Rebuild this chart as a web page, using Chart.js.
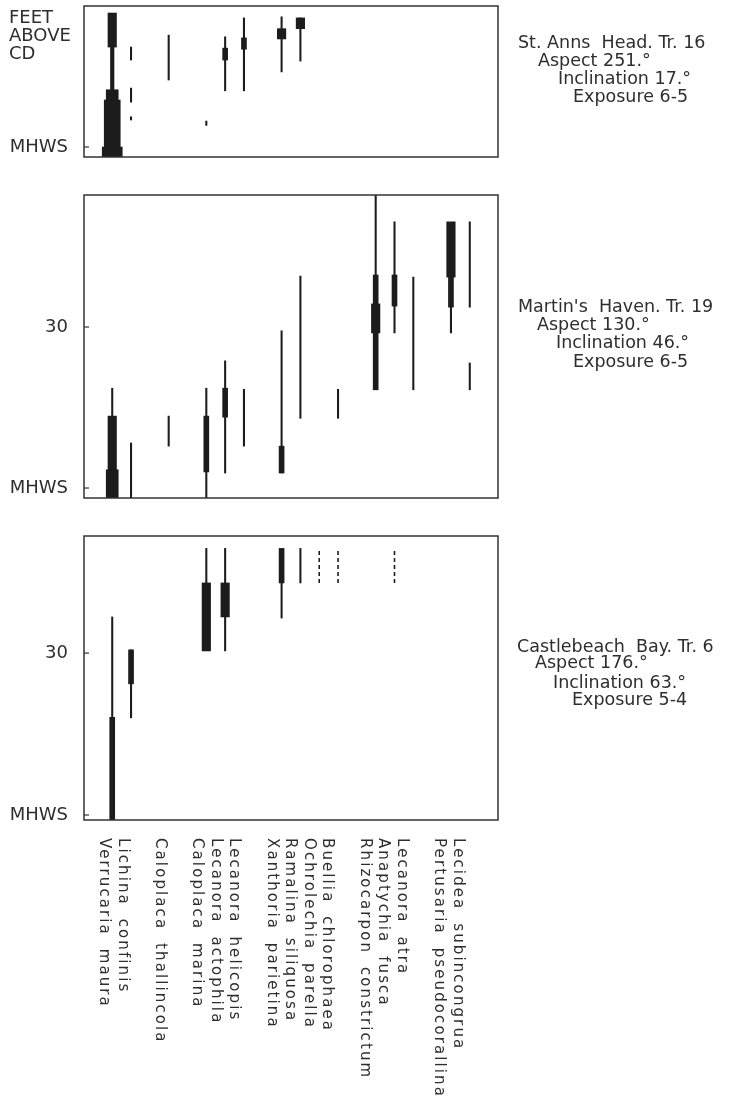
<!DOCTYPE html>
<html>
<head>
<meta charset="utf-8">
<script src="https://cdn.jsdelivr.net/npm/chart.js@4.4.1/dist/chart.umd.min.js"></script>
<style>
  html, body { margin: 0; padding: 0; background: #fff; }
  #page { position: relative; width: 737px; height: 1101px; }
  #page canvas { position: absolute; left: 0; }
</style>
</head>
<body>
<div id="page">
  <canvas id="anns" width="737" height="166" style="top:0"></canvas>
  <canvas id="martins" width="737" height="330" style="top:180px"></canvas>
  <canvas id="castle" width="737" height="581" style="top:520px"></canvas>
</div>
<script>
// species columns, left to right; blank entries keep the gaps between groups
const COLUMNS = ['', 'Verrucaria maura', 'Lichina confinis', '', 'Caloplaca thallincola', '',
  'Caloplaca marina', 'Lecanora actophila', 'Lecanora helicopis', '',
  'Xanthoria parietina', 'Ramalina siliquosa', 'Ochrolechia parella', 'Buellia chlorophaea', '',
  'Rhizocarpon constrictum', 'Anaptychia fusca', 'Lecanora atra', '',
  'Pertusaria pseudocorallina', 'Lecidea subincongrua', ''];

// heights are feet above MHWS: [species, from, to]
// St. Anns Head, Tr. 16
const ANNS_RANGE = [-1.85, 26.1];
const ANNS_TICKS = [0];
const ANNS_LINE = [
  ['Lichina confinis', 16.1, 18.5],
  ['Lichina confinis', 8.3, 10.9],
  ['Lichina confinis', 5.0, 5.6],
  ['Caloplaca thallincola', 12.4, 20.7],
  ['Caloplaca marina', 4.0, 4.8],
  ['Lecanora actophila', 10.4, 20.4],
  ['Lecanora helicopis', 10.4, 23.9],
  ['Xanthoria parietina', 13.9, 24.1],
  ['Ramalina siliquosa', 15.9, 23.9],
];
const ANNS_STEM = [['Verrucaria maura', 10.6, 18.5]];
const ANNS_NARROW = [
  ['Lecanora actophila', 16.1, 18.3],
  ['Lecanora helicopis', 18.1, 20.2],
];
const ANNS_BROAD = [
  ['Verrucaria maura', 18.5, 24.8],
  ['Xanthoria parietina', 20.0, 21.9],
  ['Ramalina siliquosa', 21.9, 23.9],
];
const ANNS_WIDE = [['Verrucaria maura', 8.7, 10.6]];
const ANNS_WIDER = [['Verrucaria maura', 0, 8.7]];
const ANNS_WIDEST = [['Verrucaria maura', -1.85, 0]];

// Martin's Haven, Tr. 19
const MART_RANGE = [-1.86, 54.6];
const MART_TICKS = [0, 30];
const MART_LINE = [
  ['Verrucaria maura', 13.4, 18.6],
  ['Lichina confinis', -1.86, 8.4],
  ['Caloplaca thallincola', 7.8, 13.4],
  ['Caloplaca marina', -1.86, 18.6],
  ['Lecanora actophila', 2.8, 23.7],
  ['Lecanora helicopis', 7.8, 18.4],
  ['Xanthoria parietina', 2.8, 29.3],
  ['Ramalina siliquosa', 13.0, 39.5],
  ['Buellia chlorophaea', 13.0, 18.4],
  ['Rhizocarpon constrictum', 18.6, 54.6],
  ['Anaptychia fusca', 28.9, 49.6],
  ['Lecanora atra', 18.3, 39.3],
  ['Pertusaria pseudocorallina', 28.9, 33.7],
  ['Lecidea subincongrua', 33.7, 49.6],
  ['Lecidea subincongrua', 18.3, 23.3],
];
const MART_NARROW = [
  ['Caloplaca marina', 3.0, 13.4],
  ['Lecanora actophila', 13.2, 18.6],
  ['Xanthoria parietina', 2.8, 7.8],
  ['Rhizocarpon constrictum', 18.3, 39.7],
  ['Anaptychia fusca', 33.9, 39.7],
  ['Pertusaria pseudocorallina', 33.7, 39.3],
];
const MART_BROAD = [
  ['Verrucaria maura', 3.4, 13.4],
  ['Rhizocarpon constrictum', 28.9, 34.3],
  ['Pertusaria pseudocorallina', 39.3, 49.6],
];
const MART_WIDE = [['Verrucaria maura', -1.86, 3.4]];

// Castlebeach Bay, Tr. 6
const CASTLE_RANGE = [-0.93, 51.7];
const CASTLE_TICKS = [0, 30];
const CASTLE_LINE = [
  ['Verrucaria maura', 18.1, 36.7],
  ['Lichina confinis', 18.0, 30.6],
  ['Caloplaca marina', 43.0, 49.4],
  ['Lecanora actophila', 30.4, 49.4],
  ['Xanthoria parietina', 36.5, 43.0],
  ['Ramalina siliquosa', 43.0, 49.4],
];
const CASTLE_NARROW = [
  ['Verrucaria maura', -0.93, 18.1],
  ['Lichina confinis', 24.3, 30.6],
  ['Xanthoria parietina', 43.0, 49.4],
];
const CASTLE_BROAD = [
  ['Caloplaca marina', 30.4, 43.0],
  ['Lecanora actophila', 36.7, 43.0],
];
const CASTLE_DASHED = [
  ['Ochrolechia parella', 43.0, 49.3],
  ['Buellia chlorophaea', 43.0, 49.3],
  ['Anaptychia fusca', 43.0, 49.3],
];

const INK = '#1c1c1c';
const TEXT = '#2e2e2e';
const FONT = 'DejaVu Sans';
const WIDTH = { line: 1.4, stem: 3.5, narrow: 5, broad: 8.5, wide: 12, wider: 16, widest: 20 };

function bars(rows, width) {
  return {
    type: 'bar',
    data: rows.map(([name, lo, hi]) => ({ x: name, y: [lo, hi] })),
    backgroundColor: INK,
    borderWidth: 0,
    barThickness: width,
    grouped: false,
  };
}

function dashes(rows) {
  const pts = [];
  rows.forEach(([name, lo, hi]) => {
    pts.push({ x: name, y: lo }, { x: name, y: hi }, { x: name, y: null });
  });
  return {
    type: 'line',
    data: pts,
    borderColor: INK,
    borderWidth: 1.6,
    borderDash: [4, 3],
    pointRadius: 0,
    spanGaps: false,
    fill: false,
  };
}

// box round the plot, short ticks inside it, and the side notes
const framePlugin = {
  id: 'frame',
  afterDraw(chart, args, opts) {
    const { ctx, chartArea: a } = chart;
    const y = chart.scales.y;
    ctx.save();
    ctx.strokeStyle = '#333';
    ctx.lineWidth = 1.5;
    ctx.strokeRect(a.left, a.top, a.right - a.left, a.bottom - a.top);
    ctx.lineWidth = 1.2;
    y.ticks.forEach(t => {
      const py = y.getPixelForValue(t.value);
      ctx.beginPath();
      ctx.moveTo(a.left, py);
      ctx.lineTo(a.left + 5, py);
      ctx.stroke();
    });
    ctx.fillStyle = TEXT;
    ctx.textBaseline = 'middle';
    ctx.textAlign = 'left';
    ctx.font = `17.5px "${FONT}"`;
    (opts.notes || []).forEach(([txt, x, ty]) => ctx.fillText(txt, x, ty));
    ctx.font = `18px "${FONT}"`;
    (opts.title || []).forEach(([txt, x, ty]) => ctx.fillText(txt, x, ty));
    ctx.restore();
  },
};

// species names under the last panel, running downwards
const namesPlugin = {
  id: 'names',
  afterDraw(chart, args, opts) {
    if (!opts.show) return;
    const { ctx } = chart;
    const x = chart.scales.x;
    ctx.save();
    ctx.fillStyle = TEXT;
    ctx.font = `15px "${FONT}"`;
    ctx.letterSpacing = '2.1px';
    ctx.wordSpacing = '6px';
    ctx.textAlign = 'left';
    ctx.textBaseline = 'alphabetic';
    COLUMNS.forEach((name, i) => {
      if (!name) return;
      const px = x.getPixelForValue(i) - 12 - 4 * i / 20;
      ctx.save();
      ctx.translate(px, opts.top);
      ctx.rotate(Math.PI / 2);
      ctx.fillText(name, 0, 0);
      ctx.restore();
    });
    ctx.restore();
  },
};

function panel(id, datasets, range, ticks, padding, frame, names) {
  return new Chart(document.getElementById(id), {
    type: 'bar',
    data: { labels: COLUMNS, datasets },
    options: {
      responsive: false,
      animation: false,
      layout: { padding },
      plugins: {
        legend: { display: false },
        tooltip: { enabled: false },
        frame,
        names,
      },
      scales: {
        x: { type: 'category', display: false, offset: true },
        y: {
          type: 'linear',
          min: range[0],
          max: range[1],
          afterBuildTicks: s => { s.ticks = ticks.map(v => ({ value: v })); },
          afterFit: s => { s.width = 84; s.paddingTop = 0; s.paddingBottom = 0; },
          ticks: {
            callback: v => (v === 0 ? 'MHWS' : String(v)),
            padding: 16,
            color: TEXT,
            font: { family: FONT, size: 18 },
          },
          grid: { display: false, drawTicks: false },
          border: { display: false },
        },
      },
    },
    plugins: [framePlugin, namesPlugin],
  });
}

panel('anns', [
  bars(ANNS_LINE, WIDTH.line),
  bars(ANNS_STEM, WIDTH.stem),
  bars(ANNS_NARROW, WIDTH.narrow),
  bars(ANNS_BROAD, WIDTH.broad),
  bars(ANNS_WIDE, WIDTH.wide),
  bars(ANNS_WIDER, WIDTH.wider),
  bars(ANNS_WIDEST, WIDTH.widest),
], ANNS_RANGE, ANNS_TICKS, { top: 6, bottom: 9, left: 0, right: 239 }, {
  notes: [
    ['St. Anns  Head. Tr. 16', 518, 43],
    ['Aspect 251.°', 538, 61],
    ['Inclination 17.°', 558, 79],
    ['Exposure 6-5', 573, 97],
  ],
  title: [['FEET', 9, 18], ['ABOVE', 9, 36], ['CD', 9, 54]],
}, { show: false });

panel('martins', [
  bars(MART_LINE, WIDTH.line),
  bars(MART_NARROW, WIDTH.narrow),
  bars(MART_BROAD, WIDTH.broad),
  bars(MART_WIDE, WIDTH.wide),
], MART_RANGE, MART_TICKS, { top: 15, bottom: 12, left: 0, right: 239 }, {
  notes: [
    ["Martin's  Haven. Tr. 19", 518, 127],
    ['Aspect 130.°', 537, 145],
    ['Inclination 46.°', 556, 163],
    ['Exposure 6-5', 573, 182],
  ],
}, { show: false });

panel('castle', [
  bars(CASTLE_LINE, WIDTH.line),
  bars(CASTLE_NARROW, WIDTH.narrow),
  bars(CASTLE_BROAD, WIDTH.broad),
  dashes(CASTLE_DASHED),
], CASTLE_RANGE, CASTLE_TICKS, { top: 16, bottom: 281, left: 0, right: 239 }, {
  notes: [
    ['Castlebeach  Bay. Tr. 6', 517, 127],
    ['Aspect 176.°', 535, 143],
    ['Inclination 63.°', 553, 163],
    ['Exposure 5-4', 572, 180],
  ],
}, { show: true, top: 318 });
</script>
</body>
</html>
